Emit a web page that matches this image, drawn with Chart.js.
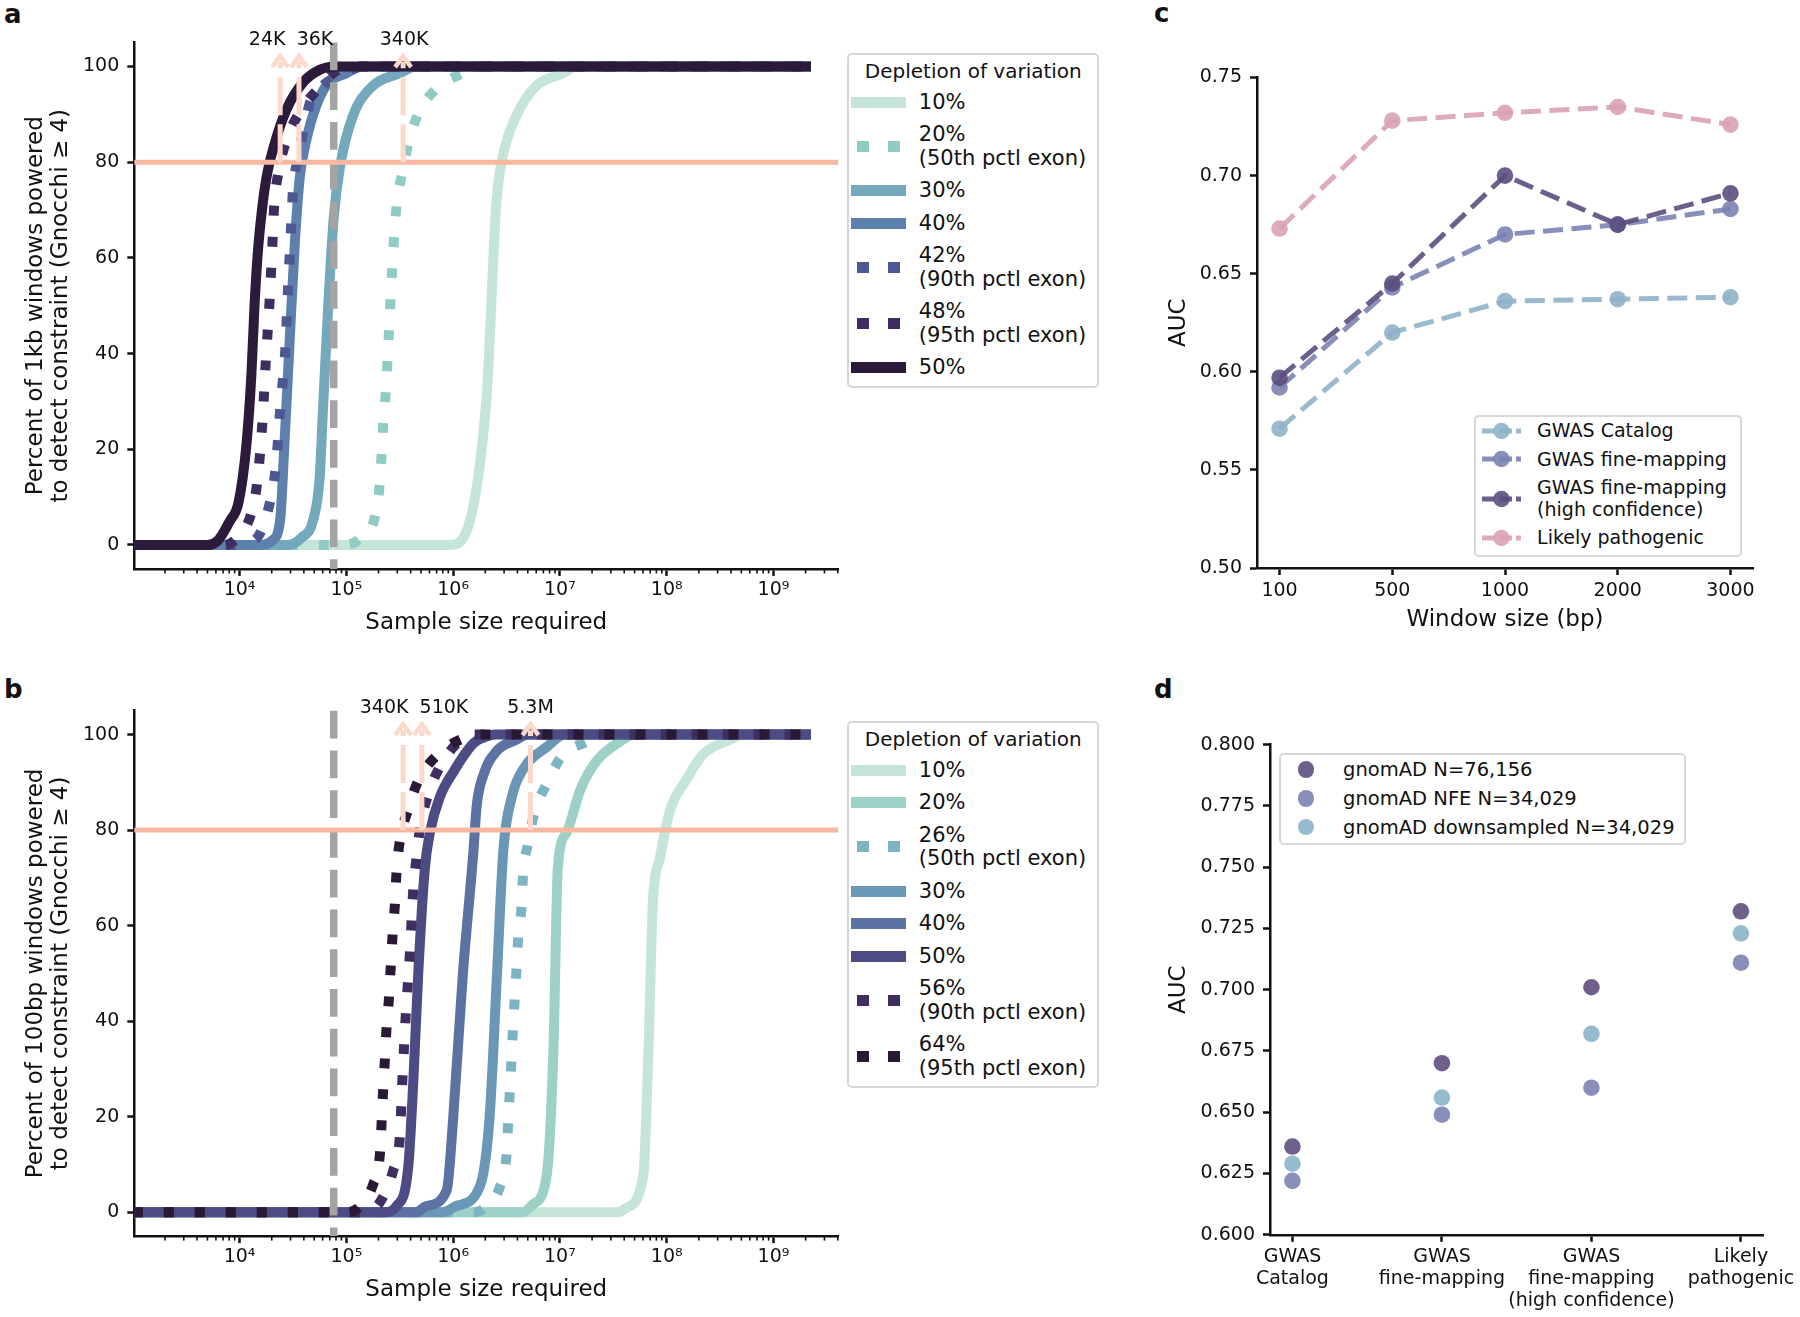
<!DOCTYPE html>
<html>
<head>
<meta charset="utf-8">
<title>Power to detect constraint and AUC</title>
<script src="https://cdn.jsdelivr.net/npm/chart.js@4.4.1/dist/chart.umd.min.js"></script>
<style>
html, body { margin: 0; padding: 0; background: #fff; }
body { position: relative; width: 1800px; height: 1317px; overflow: hidden; font-family: 'DejaVu Sans', sans-serif; color: #111; }
canvas { position: absolute; }
.tag { position: absolute; font-size: 26px; line-height: 26px; font-weight: bold; }
.legend { position: absolute; box-sizing: border-box; background: #fff; border: 2.5px solid #d8d8d8; border-radius: 5px; }
.legend .ttl { font-size: 20px; line-height: 23px; text-align: center; margin-bottom: 7.5px; }
.legend .row { display: flex; align-items: center; }
.legend .txt { white-space: pre; }
</style>
</head>
<body>
<div class="tag" style="left:4px; top:1px;">a</div>
<div class="tag" style="left:4px; top:675.5px;">b</div>
<div class="tag" style="left:1154px; top:0px;">c</div>
<div class="tag" style="left:1154px; top:675.5px;">d</div>

<canvas id="chartA" width="860" height="650" style="left:0; top:0;"></canvas>
<canvas id="chartB" width="860" height="657" style="left:0; top:660px;"></canvas>
<canvas id="chartC" width="660" height="650" style="left:1140px; top:0;"></canvas>
<canvas id="chartD" width="660" height="657" style="left:1140px; top:660px;"></canvas>

<div class="legend" id="legendA" style="left:847.3px; top:53.3px; width:252px; padding:5px 0 6.5px 0;"></div>
<div class="legend" id="legendB" style="left:847.3px; top:721px; width:252px; padding:5px 0 6.5px 0;"></div>
<div class="legend" id="legendC" style="left:1474px; top:415px; width:268px; padding:3.3px 0 6.5px 0;"></div>
<div class="legend" id="legendD" style="left:1279.4px; top:753px; width:406.3px; padding:4.1px 0 5.7px 0;"></div>

<script>
// ---- panel a: 1kb windows, [sample size, percent powered] ----
const a10 = [[1e3, 0], [9.3e5, 0], [2.04e6, 29.8], [2.54e6, 71.6], [2.95e6, 81.7], [3.89e6, 89.6], [6.03e6, 96], [1.07e7, 98.6], [1.41e7, 100], [2.24e9, 100]];
const a20 = [[1e3, 0], [8.9e4, 0], [1.29e5, 1], [1.86e5, 6], [2.04e5, 12], [2.14e5, 19], [2.21e5, 25.5], [2.34e5, 32], [2.51e5, 45], [2.69e5, 58], [2.95e5, 70.9], [3.31e5, 77.4], [3.80e5, 83.8], [4.68e5, 90], [7.0e5, 95.4], [1.23e6, 98.6], [1.78e6, 100], [2.24e9, 100]];
const a30 = [[1e3, 0], [2.82e4, 0], [3.80e4, 1.5], [4.90e4, 5.3], [5.62e4, 14], [6.03e4, 28], [6.76e4, 50], [7.59e4, 68], [8.71e4, 79], [1.15e5, 89.6], [1.78e5, 96], [3.16e5, 98.6], [4.47e5, 100], [2.24e9, 100]];
const a40 = [[1e3, 0], [1.58e4, 0], [2.04e4, 1], [2.40e4, 5.3], [2.63e4, 21], [2.95e4, 43], [3.31e4, 64], [3.67e4, 77], [4.07e4, 83], [4.90e4, 90], [6.46e4, 96], [1.0e5, 98.6], [1.41e5, 100], [2.24e9, 100]];
const a42 = [[1e3, 0], [8.9e3, 0], [1.26e4, 0.5], [1.55e4, 2.4], [1.91e4, 8.6], [2.14e4, 14.7], [2.29e4, 21.9], [2.40e4, 28.4], [2.69e4, 41.4], [2.85e4, 54.3], [2.95e4, 60.8], [3.16e4, 74.1], [3.39e4, 79.2], [3.98e4, 86.7], [4.57e4, 92.5], [6.03e4, 96], [9.33e4, 98.5], [1.41e5, 100], [2.24e9, 100]];
const a48 = [[1e3, 0], [7.1e3, 0], [9.5e3, 1.5], [1.29e4, 6.7], [1.46e4, 13], [1.64e4, 26], [1.76e4, 38.5], [1.91e4, 51], [2.04e4, 64], [2.11e4, 71], [2.29e4, 77.4], [2.75e4, 84.6], [3.80e4, 91], [5.62e4, 95.7], [7.94e4, 99], [1.12e5, 100], [2.24e9, 100]];
const a50 = [[1e3, 0], [5.0e3, 0], [6.3e3, 1], [8.1e3, 5], [9.8e3, 9], [1.16e4, 21], [1.29e4, 35.6], [1.38e4, 50], [1.48e4, 61], [1.62e4, 70], [1.78e4, 76.6], [2.04e4, 82.4], [2.75e4, 91], [3.98e4, 96.8], [5.62e4, 99.3], [7.94e4, 100], [2.24e9, 100]];
const seriesA = [a10, a20, a30, a40, a42, a48, a50];
const labelsA = ['10%', '20%\n(50th pctl exon)', '30%', '40%', '42%\n(90th pctl exon)', '48%\n(95th pctl exon)', '50%'];
const arrowsA = [24000, 36000, 340000];
const arrowTextA = ['24K', '36K', '340K'];

// ---- panel b: 100bp windows ----
const b10 = [[1e3, 0], [3.55e7, 0], [4.17e7, 0.9], [6.03e7, 7.6], [6.76e7, 34.6], [7.41e7, 64.5], [8.61e7, 74], [1.07e8, 84], [1.53e8, 90.6], [2.19e8, 95.9], [3.89e8, 98.9], [5.01e8, 100], [2.24e9, 100]];
const b20 = [[1e3, 0], [4.47e6, 0], [5.62e6, 1.7], [7.50e6, 7.6], [8.71e6, 34.6], [9.55e6, 72], [1.15e7, 79.4], [1.55e7, 88.4], [2.19e7, 94.4], [3.63e7, 98.5], [5.01e7, 100], [2.24e9, 100]];
const b26 = [[1e3, 0], [1.58e6, 0], [2.0e6, 1], [2.75e6, 5.4], [3.16e6, 12], [3.27e6, 18.5], [3.39e6, 25], [3.52e6, 32], [3.63e6, 38.3], [3.78e6, 45], [3.93e6, 51.4], [4.07e6, 57.7], [4.37e6, 64], [4.52e6, 70.8], [5.01e6, 77], [5.82e6, 84], [7.50e6, 89.6], [1.04e7, 95.5], [1.78e7, 98.5], [2.51e7, 100], [2.24e9, 100]];
const b30 = [[1e3, 0], [7.9e5, 0], [1.07e6, 1.3], [1.78e6, 5.4], [2.19e6, 19.6], [2.57e6, 49.5], [2.95e6, 75.7], [3.55e6, 87], [4.57e6, 92.9], [7.50e6, 97.4], [1.12e7, 100], [2.24e9, 100]];
const b40 = [[1e3, 0], [4.47e5, 0], [5.62e5, 1.3], [8.71e5, 4.6], [1.0e6, 19.6], [1.23e6, 49.5], [1.55e6, 75.7], [1.66e6, 85], [1.91e6, 91.4], [2.57e6, 96.6], [3.89e6, 98.9], [5.01e6, 100], [2.24e9, 100]];
const b50 = [[1e3, 0], [2.24e5, 0], [2.95e5, 1.3], [3.80e5, 9.5], [4.23e5, 27.1], [4.70e5, 49.5], [5.43e5, 71.9], [6.05e5, 79.4], [7.50e5, 86.9], [1.0e6, 92.1], [1.54e6, 98.1], [2.04e6, 99.6], [2.51e6, 100], [2.24e9, 100]];
const b56 = [[1e3, 0], [1.58e5, 0], [2.21e5, 3.2], [2.75e5, 8.8], [3.16e5, 15.5], [3.36e5, 28.6], [3.61e5, 41.7], [3.94e5, 54.4], [4.23e5, 67.5], [4.54e5, 74.2], [4.88e5, 80.2], [5.75e5, 87], [7.41e5, 93], [1.19e6, 99], [1.58e6, 100], [2.24e9, 100]];
const b64 = [[1e3, 0], [1.0e5, 0], [1.29e5, 0.9], [1.78e5, 5.8], [2.06e5, 12.1], [2.14e5, 18.9], [2.21e5, 25.6], [2.29e5, 31.6], [2.38e5, 38.7], [2.51e5, 45], [2.61e5, 51.8], [2.71e5, 58.1], [2.84e5, 64.1], [2.95e5, 71.2], [3.16e5, 77.6], [3.79e5, 84.3], [4.70e5, 90.3], [7.24e5, 95.9], [1.24e6, 99.2], [1.78e6, 100], [2.24e9, 100]];
const seriesB = [b10, b20, b26, b30, b40, b50, b56, b64];
const labelsB = ['10%', '20%', '26%\n(50th pctl exon)', '30%', '40%', '50%', '56%\n(90th pctl exon)', '64%\n(95th pctl exon)'];
const arrowsB = [340000, 510000, 5300000];
const arrowTextB = ['340K', '510K', '5.3M'];

const gnomadN = 76156;
const powerThreshold = 80;
const pctTicks = [0, 20, 40, 60, 80, 100];
const sampleTicks = [1e4, 1e5, 1e6, 1e7, 1e8, 1e9];

// ---- panel c: AUC by window size ----
const windowSizes = ['100', '500', '1000', '2000', '3000'];
const labelsC = ['GWAS Catalog', 'GWAS fine-mapping', 'GWAS fine-mapping\n(high confidence)', 'Likely pathogenic'];
const aucCatalog = [0.571, 0.620, 0.636, 0.637, 0.638];
const aucFinemap = [0.592, 0.643, 0.670, 0.675, 0.683];
const aucFinemapHigh = [0.597, 0.645, 0.700, 0.675, 0.691];
const aucPathogenic = [0.673, 0.728, 0.732, 0.735, 0.726];
const aucTicksC = [0.50, 0.55, 0.60, 0.65, 0.70, 0.75];

// ---- panel d: AUC by reference sample ----
const categoriesD = [['GWAS', 'Catalog'], ['GWAS', 'fine-mapping'], ['GWAS', 'fine-mapping', '(high confidence)'], ['Likely', 'pathogenic']];
const labelsD = ['gnomAD N=76,156', 'gnomAD NFE N=34,029', 'gnomAD downsampled N=34,029'];
const aucFull = [0.636, 0.670, 0.701, 0.732];
const aucNFE = [0.622, 0.649, 0.660, 0.711];
const aucDownsampled = [0.629, 0.656, 0.682, 0.723];
const aucTicksD = [0.600, 0.625, 0.650, 0.675, 0.700, 0.725, 0.750, 0.775, 0.800];

// styles
const colorsA = ['#c4e5d7', '#91cbc5', '#73a8bd', '#5e80ac', '#4d5792', '#3e2d60', '#2c1a3b'];
const dottedA = [false, true, false, false, true, true, false];
const colorsB = ['#c4e5d7', '#9dd1c8', '#7db4c3', '#6b97b6', '#5b72a2', '#4d4b83', '#3f2e5f', '#2a1935'];
const dottedB = [false, false, true, false, false, false, true, true];
const colorsC = ['rgba(143,179,201,0.9)', 'rgba(122,131,179,0.9)', 'rgba(92,78,128,0.9)', 'rgba(218,162,180,0.9)'];
const colorsD = ['#6f5f8c', '#898eba', '#95bbce'];
const peach = '#fdd9cb';
const salmon = '#f8b7a0';

Chart.defaults.font.family = "'DejaVu Sans', sans-serif";
Chart.defaults.color = '#111';

const SUP = '⁰¹²³⁴⁵⁶⁷⁸⁹';
const INK = '#111';

function axisBase() {
    return {
        border: { display: true, color: INK, width: 2.5 },
        grid: { display: true, drawOnChartArea: false, drawTicks: true, tickLength: 7, tickWidth: 2.5, tickColor: INK, color: INK }
    };
}

function overlayPlugin(arrows, arrowText, textShift) {
    return {
        id: 'powerOverlay',
        afterDatasetsDraw(chart) {
            const { ctx, chartArea: ca, scales: { x, y } } = chart;
            ctx.save();
            // gnomAD sample size
            const gx = x.getPixelForValue(gnomadN);
            ctx.strokeStyle = '#a4a4a4';
            ctx.lineWidth = 7.5;
            ctx.setLineDash([27.75, 12]);
            ctx.beginPath(); ctx.moveTo(gx, ca.top); ctx.lineTo(gx, ca.bottom); ctx.stroke();
            // 80% power
            const ty = y.getPixelForValue(powerThreshold);
            ctx.setLineDash([]);
            ctx.strokeStyle = salmon;
            ctx.lineWidth = 5;
            ctx.beginPath(); ctx.moveTo(ca.left, ty); ctx.lineTo(ca.right, ty); ctx.stroke();
            // arrows + labels
            const tip = y.getPixelForValue(102.6);
            arrows.forEach((n, i) => {
                const ax = x.getPixelForValue(n);
                ctx.strokeStyle = peach;
                ctx.fillStyle = peach;
                ctx.lineWidth = 5;
                ctx.setLineDash([38, 9]);
                ctx.beginPath(); ctx.moveTo(ax, ty); ctx.lineTo(ax, tip + 8); ctx.stroke();
                ctx.setLineDash([]);
                ctx.lineJoin = 'miter';
                ctx.lineWidth = 4.5;
                ctx.beginPath();
                ctx.moveTo(ax - 8, tip + 13); ctx.lineTo(ax, tip + 2); ctx.lineTo(ax + 8, tip + 13);
                ctx.stroke();
                ctx.fillStyle = INK;
                ctx.font = "19px 'DejaVu Sans'";
                ctx.textAlign = 'center';
                ctx.textBaseline = 'middle';
                ctx.fillText(arrowText[i], ax + textShift[i], y.getPixelForValue(105.5));
            });
            ctx.restore();
        },
        afterDraw(chart) {
            // minor ticks of the log axis
            const { ctx, chartArea: ca, scales: { x } } = chart;
            ctx.save();
            ctx.strokeStyle = INK;
            ctx.lineWidth = 1.6;
            for (let d = 3; d <= 9; d++) {
                for (let k = 2; k <= 9; k++) {
                    const v = k * Math.pow(10, d);
                    if (v < x.min || v > x.max) continue;
                    const px = x.getPixelForValue(v);
                    ctx.beginPath(); ctx.moveTo(px, ca.bottom); ctx.lineTo(px, ca.bottom + 4.5); ctx.stroke();
                }
            }
            ctx.restore();
        }
    };
}

function powerChart(id, series, colors, dotted, yTitle, arrows, arrowText, textShift, pad, xHeight) {
    const datasets = series.map((pts, i) => ({
        label: i,
        data: pts.map(p => ({ x: p[0], y: p[1] })),
        borderColor: colors[i],
        borderWidth: 10,
        borderDash: dotted[i] ? [10, 21] : [],
        borderCapStyle: 'butt',
        borderJoinStyle: 'round',
        pointRadius: 0,
        fill: false,
        cubicInterpolationMode: 'monotone',
        clip: 0,
        order: series.length - i
    }));
    return new Chart(document.getElementById(id), {
        type: 'line',
        data: { datasets },
        options: {
            responsive: false,
            animation: false,
            events: [],
            layout: { padding: pad },
            plugins: { legend: { display: false }, tooltip: { enabled: false } },
            scales: {
                x: Object.assign(axisBase(), {
                    type: 'logarithmic',
                    min: 1033,
                    max: 4.036e9,
                    afterBuildTicks: s => { s.ticks = sampleTicks.map(v => ({ value: v })); },
                    afterFit: s => { s.height = xHeight; },
                    ticks: {
                        autoSkip: false, maxRotation: 0, padding: 2.5, color: INK,
                        font: { size: 19 },
                        callback: v => '10' + SUP[Math.round(Math.log10(v))]
                    },
                    title: { display: true, text: 'Sample size required', color: INK, padding: 0, font: { size: 23, lineHeight: 1.2 } }
                }),
                y: Object.assign(axisBase(), {
                    type: 'linear',
                    min: -5,
                    max: 105,
                    afterBuildTicks: s => { s.ticks = pctTicks.map(v => ({ value: v })); },
                    afterFit: s => { s.width = 111.3; },
                    ticks: { padding: 8, color: INK, font: { size: 19 } },
                    title: { display: true, text: yTitle, color: INK, padding: 0, font: { size: 23, lineHeight: 1.1 } }
                })
            }
        },
        plugins: [overlayPlugin(arrows, arrowText, textShift)]
    });
}

powerChart('chartA', seriesA, colorsA, dottedA,
    ['Percent of 1kb windows powered', 'to detect constraint (Gnocchi \u2265 4)'],
    arrowsA, arrowTextA, [-13, 16, 1],
    { top: 42.6, left: 23, right: 21.8, bottom: 13.2 }, 67.9);

powerChart('chartB', seriesB, colorsB, dottedB,
    ['Percent of 100bp windows powered', 'to detect constraint (Gnocchi \u2265 4)'],
    arrowsB, arrowTextB, [-19, 22, 0],
    { top: 50.7, left: 23, right: 21.8, bottom: 13.2 }, 67.7);

// panel c
const seriesC = [aucCatalog, aucFinemap, aucFinemapHigh, aucPathogenic];
new Chart(document.getElementById('chartC'), {
    type: 'line',
    data: {
        datasets: seriesC.map((vals, i) => ({
            label: labelsC[i],
            data: vals.map((v, j) => ({ x: j, y: v })),
            borderColor: colorsC[i],
            backgroundColor: colorsC[i],
            borderWidth: 5,
            borderDash: [20, 8.5],
            pointRadius: 8.3,
            pointBorderWidth: 0,
            pointBackgroundColor: colorsC[i],
            tension: 0,
            fill: false,
            order: seriesC.length - i
        }))
    },
    options: {
        responsive: false,
        animation: false,
        events: [],
        layout: { padding: { top: 77.5, left: 25.2, right: 47, bottom: 15.8 } },
        plugins: { legend: { display: false }, tooltip: { enabled: false } },
        scales: {
            x: Object.assign(axisBase(), {
                type: 'linear', min: -0.2, max: 4.2,
                afterBuildTicks: s => { s.ticks = windowSizes.map((w, i) => ({ value: i })); },
                afterFit: s => { s.height = 66.2; },
                ticks: { autoSkip: false, maxRotation: 0, padding: 4.2, color: INK, font: { size: 19 }, callback: v => windowSizes[v] },
                title: { display: true, text: 'Window size (bp)', color: INK, padding: 0, font: { size: 23, lineHeight: 1.2 } }
            }),
            y: Object.assign(axisBase(), {
                type: 'linear', min: 0.5, max: 0.75,
                afterBuildTicks: s => { s.ticks = aucTicksC.map(v => ({ value: v })); },
                afterFit: s => { s.width = 91.8; },
                ticks: { padding: 8, color: INK, font: { size: 19 }, callback: v => v.toFixed(2) },
                title: { display: true, text: 'AUC', color: INK, padding: 0, font: { size: 23, lineHeight: 1.2 } }
            })
        }
    }
});

// panel d
const seriesD = [aucFull, aucNFE, aucDownsampled];
new Chart(document.getElementById('chartD'), {
    type: 'scatter',
    data: {
        datasets: seriesD.map((vals, i) => ({
            label: labelsD[i],
            data: vals.map((v, j) => ({ x: j, y: v })),
            pointRadius: 8.3,
            pointBorderWidth: 0,
            pointBackgroundColor: colorsD[i],
            backgroundColor: colorsD[i],
            order: seriesD.length - i
        }))
    },
    options: {
        responsive: false,
        animation: false,
        events: [],
        layout: { padding: { top: 84.6, left: 25.2, right: 35, bottom: 2.2 } },
        plugins: { legend: { display: false }, tooltip: { enabled: false } },
        scales: {
            x: Object.assign(axisBase(), {
                type: 'linear', min: -0.15, max: 3.15,
                afterBuildTicks: s => { s.ticks = categoriesD.map((c, i) => ({ value: i })); },
                afterFit: s => { s.height = 80; },
                ticks: { autoSkip: false, maxRotation: 0, padding: 4.3, color: INK, font: { size: 19, lineHeight: 1.15 }, callback: v => categoriesD[v] }
            }),
            y: Object.assign(axisBase(), {
                type: 'linear', min: 0.6, max: 0.8,
                afterBuildTicks: s => { s.ticks = aucTicksD.map(v => ({ value: v })); },
                afterFit: s => { s.width = 104.8; },
                ticks: { padding: 8, color: INK, font: { size: 19 }, callback: v => v.toFixed(3) },
                title: { display: true, text: 'AUC', color: INK, padding: 0, font: { size: 23, lineHeight: 1.2 } }
            })
        }
    }
});

// legends
function lineLegend(el, labels, colors, dotted) {
    let html = '<div class="ttl">Depletion of variation</div>';
    labels.forEach((lab, i) => {
        const sw = dotted[i]
            ? `background: repeating-linear-gradient(to right, transparent 0 5.7px, ${colors[i]} 5.7px 17.7px, transparent 17.7px 31.7px);`
            : `background: ${colors[i]};`;
        html += `<div class="row" style="margin-top:${i ? 9.3 : 0}px">` +
            `<span style="display:inline-block; flex:none; width:55.7px; height:11px; margin:0 12.3px 0 1.5px; ${sw}"></span>` +
            `<span class="txt" style="font-size:21px; line-height:23.3px;">${lab}</span></div>`;
    });
    el.innerHTML = html;
}
lineLegend(document.getElementById('legendA'), labelsA, colorsA, dottedA);
lineLegend(document.getElementById('legendB'), labelsB, colorsB, dottedB);

let htmlC = '';
labelsC.forEach((lab, i) => {
    htmlC += `<div class="row" style="margin-top:${i ? 7.4 : 0}px">` +
        `<svg width="39" height="20" style="flex:none; margin:0 16.6px 0 5.5px;">` +
        `<line x1="0" y1="10" x2="39" y2="10" stroke="${colorsC[i]}" stroke-width="5" stroke-dasharray="13 4"/>` +
        `<circle cx="19.5" cy="10" r="8.3" fill="${colorsC[i]}"/></svg>` +
        `<span class="txt" style="font-size:19px; line-height:21.2px;">${lab}</span></div>`;
});
document.getElementById('legendC').innerHTML = htmlC;

let htmlD = '';
labelsD.forEach((lab, i) => {
    htmlD += `<div class="row" style="margin-top:${i ? 7.5 : 0}px">` +
        `<span style="display:inline-block; flex:none; width:16.6px; height:16.6px; border-radius:50%; background:${colorsD[i]}; margin:0 28.6px 0 16.5px;"></span>` +
        `<span class="txt" style="font-size:19.5px; line-height:21.2px;">${lab}</span></div>`;
});
document.getElementById('legendD').innerHTML = htmlD;
</script>
</body>
</html>
